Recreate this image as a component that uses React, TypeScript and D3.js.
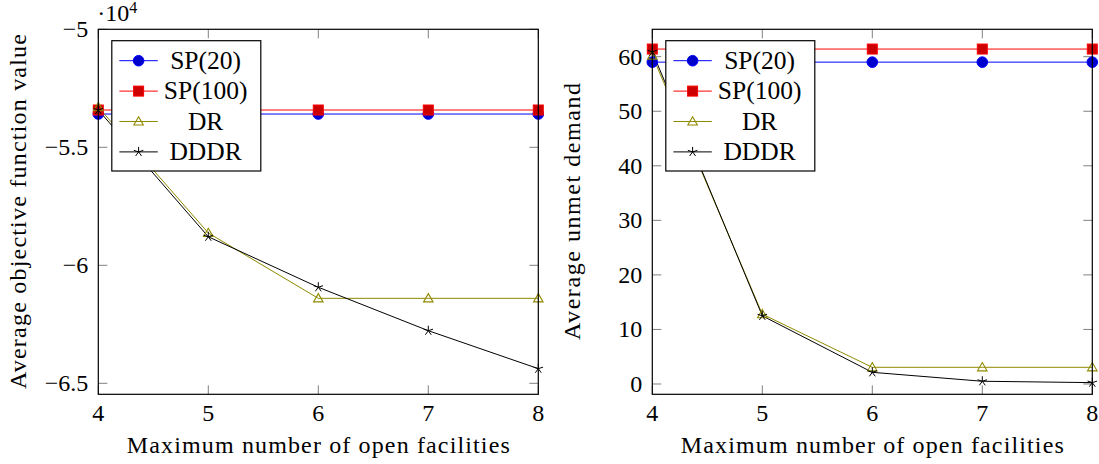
import React from "react";
import * as d3 from "d3";

// ---------- data ----------
const xValues = [4, 5, 6, 7, 8];
const xTicks = [4, 5, 6, 7, 8];

const objSP20 = [-53590, -53590, -53590, -53590, -53590];
const objSP100 = [-53420, -53420, -53420, -53420, -53420];
const objDR = [-53300, -58630, -61400, -61400, -61400];
const objDDDR = [-53420, -58790, -60930, -62770, -64380];
const objTicks = [-50000, -55000, -60000, -65000];
const objTickLabels = ["−5", "−5.5", "−6", "−6.5"];

const unmetSP20 = [59.0, 59.0, 59.0, 59.0, 59.0];
const unmetSP100 = [61.4, 61.4, 61.4, 61.4, 61.4];
const unmetDR = [60.2, 12.8, 3.06, 3.06, 3.06];
const unmetDDDR = [60.9, 12.5, 2.14, 0.5, 0.25];
const unmetTicks = [0, 10, 20, 30, 40, 50, 60];
const unmetTickLabels = ["0", "10", "20", "30", "40", "50", "60"];

const seriesNames = ["SP(20)", "SP(100)", "DR", "DDDR"];

// ---------- styling ----------
const FONT =
  '"Liberation Serif", "DejaVu Serif", "Noto Serif", "Times New Roman", Times, "Nimbus Roman", FreeSerif, Tinos, serif';
const styles = [
  { line: "#0000ff", fill: "#0000cc", mark: "circle" },
  { line: "#ff0000", fill: "#cc0000", mark: "square" },
  { line: "#8f8a00", fill: "none", mark: "triangle" },
  { line: "#000000", fill: "none", mark: "star" },
];

function Marker({ type, x, y, color, fill }: any) {
  if (type === "circle")
    return <circle cx={x} cy={y} r={5.3} fill={fill} stroke={color} strokeWidth={1} />;
  if (type === "square")
    return <rect x={x - 5} y={y - 5} width={10} height={10} fill={fill} stroke={color} strokeWidth={1} />;
  if (type === "triangle") {
    const r = 5.5;
    const pts = [0, 1, 2]
      .map((k) => {
        const a = (-90 + 120 * k) * (Math.PI / 180);
        return `${x + r * Math.cos(a)},${y + r * Math.sin(a) + 0.8}`;
      })
      .join(" ");
    return <polygon points={pts} fill="none" stroke={color} strokeWidth={1.1} />;
  }
  const r = 5;
  const d = [0, 1, 2, 3, 4]
    .map((k) => {
      const a = (-90 + 72 * k) * (Math.PI / 180);
      return `M${x},${y}L${x + r * Math.cos(a)},${y + r * Math.sin(a)}`;
    })
    .join("");
  return <path d={d} stroke={color} strokeWidth={1} fill="none" />;
}

function Panel({
  x0, x1, yDomain, series, yTicks, yTickLabels, yTitle, yTitleX, yTitleLen, exponent,
}: any) {
  const top = 29.3;
  const bottom = 394.3;
  const xs = d3.scaleLinear().domain([4, 8]).range([x0, x1]);
  const ys = d3.scaleLinear().domain(yDomain).range([bottom, top]);
  const line = d3
    .line<number>()
    .x((_, i) => xs(xValues[i]))
    .y((v) => ys(v));
  const tl = 9;
  const lx = x0 + 13.5;
  const ly = 40.7;
  const tStyle = { fontFamily: FONT };
  return (
    <g style={tStyle}>
      {xTicks.map((t) => (
        <g key={"xt" + t} stroke="#808080" strokeWidth={1}>
          <line x1={xs(t)} x2={xs(t)} y1={bottom} y2={bottom - tl} />
          <line x1={xs(t)} x2={xs(t)} y1={top} y2={top + tl} />
        </g>
      ))}
      {yTicks.map((t: number) => (
        <g key={"yt" + t} stroke="#808080" strokeWidth={1}>
          <line x1={x0} x2={x0 + tl} y1={ys(t)} y2={ys(t)} />
          <line x1={x1} x2={x1 - tl} y1={ys(t)} y2={ys(t)} />
        </g>
      ))}
      {series.map((s: number[], i: number) => (
        <path key={"l" + i} d={line(s) || ""} fill="none" stroke={styles[i].line} strokeWidth={1} />
      ))}
      {series.map((s: number[], i: number) =>
        s.map((v, j) => (
          <Marker key={"m" + i + "-" + j} type={styles[i].mark} x={xs(xValues[j])} y={ys(v)}
            color={styles[i].line} fill={styles[i].fill} />
        ))
      )}
      <rect x={x0} y={top} width={x1 - x0} height={bottom - top} fill="none" stroke="#000" strokeWidth={1.2} />
      {xTicks.map((t) => (
        <text key={"xl" + t} x={xs(t)} y={420.5} textAnchor="middle" fontSize={24} style={tStyle}>
          {t}
        </text>
      ))}
      {yTicks.map((t: number, i: number) => (
        <text key={"yl" + t} x={x0 - 10} y={ys(t) + 8} textAnchor="end" fontSize={24} style={tStyle}>
          {yTickLabels[i]}
        </text>
      ))}
      {exponent && (
        <text x={x0 - 1} y={21} fontSize={24} style={tStyle}>
          ·10
          <tspan fontSize={16} dy={-8.5}>4</tspan>
        </text>
      )}
      <text x={(x0 + x1) / 2} y={453} textAnchor="middle" fontSize={24} style={tStyle}
        textLength={383} lengthAdjust="spacing">
        Maximum number of open facilities
      </text>
      <text transform={`translate(${yTitleX},211.5) rotate(-90)`} textAnchor="middle" fontSize={24}
        style={tStyle} textLength={yTitleLen} lengthAdjust="spacing">
        {yTitle}
      </text>
      <rect x={lx} y={ly} width={149} height={130.3} fill="#fff" stroke="#000" strokeWidth={1.2} />
      {seriesNames.map((name, i) => {
        const cy = ly + 20 + i * 30.4;
        return (
          <g key={"lg" + i}>
            <line x1={lx + 7.6} x2={lx + 46} y1={cy} y2={cy} stroke={styles[i].line} strokeWidth={1} />
            <Marker type={styles[i].mark} x={lx + 26.8} y={cy} color={styles[i].line} fill={styles[i].fill} />
            <text x={lx + 93.8} y={cy + 8} textAnchor="middle" fontSize={25.5} style={tStyle}>
              {name}
            </text>
          </g>
        );
      })}
    </g>
  );
}

export default function App() {
  return (
    <svg width={1099} height={464} style={{ position: "absolute", left: 0, top: 0, background: "#fff" }}>
      <rect width={1099} height={464} fill="#fff" />
      <Panel x0={98.3} x1={538.3} yDomain={[-65466, -50000]}
        series={[objSP20, objSP100, objDR, objDDDR]} yTicks={objTicks} yTickLabels={objTickLabels}
        yTitle="Average objective function value" yTitleX={25.5} yTitleLen={355} exponent />
      <Panel x0={652.3} x1={1092.3} yDomain={[-1.89, 65.02]}
        series={[unmetSP20, unmetSP100, unmetDR, unmetDDDR]} yTicks={unmetTicks} yTickLabels={unmetTickLabels}
        yTitle="Average unmet demand" yTitleX={580} yTitleLen={257} exponent={false} />
    </svg>
  );
}
